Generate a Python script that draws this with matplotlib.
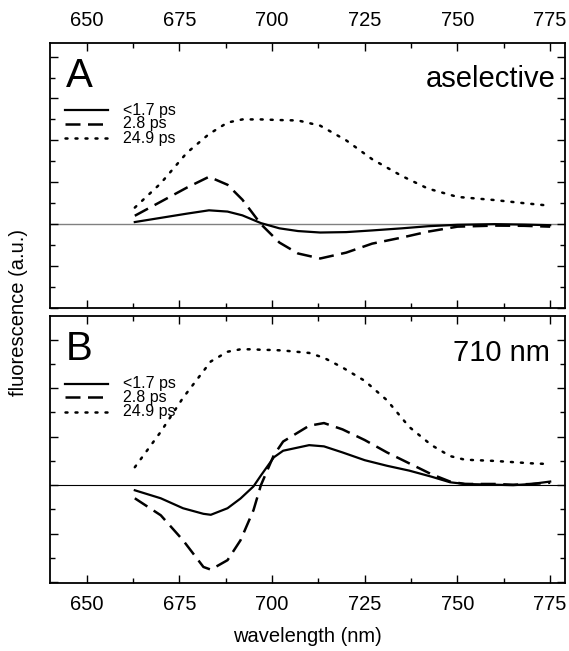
import numpy as np
import matplotlib.pyplot as plt
from matplotlib.ticker import MultipleLocator

plt.rcParams['font.family'] = ['Liberation Sans', 'DejaVu Sans']

# Data (arbitrary fluorescence units)
wl_a = [663, 670, 677, 683, 688, 692, 697, 702, 707, 713, 720, 727, 735, 742, 750, 760, 768, 775]
fast_a = [0.1, 0.3, 0.5, 0.66, 0.6, 0.42, 0.05, -0.2, -0.33, -0.4, -0.38, -0.3, -0.2, -0.1, -0.03, 0.0, -0.02, -0.05]
mid_a = [0.4, 1.07, 1.74, 2.26, 1.88, 1.17, 0.0, -0.88, -1.4, -1.64, -1.36, -0.93, -0.64, -0.36, -0.12, -0.07, -0.08, -0.12]
slow_a = [0.79, 1.95, 3.4, 4.3, 4.85, 5.0, 5.0, 4.97, 4.95, 4.7, 4.0, 3.1, 2.3, 1.7, 1.3, 1.15, 1.0, 0.88]

wl_b = [663, 670, 676, 681.5, 683.5, 688, 691.5, 695, 697, 700.5, 703, 710, 714, 719, 725, 731, 737, 743, 748, 752, 760, 765, 770, 775]
fast_b = [-0.21, -0.54, -0.95, -1.18, -1.22, -0.95, -0.55, -0.05, 0.4, 1.15, 1.42, 1.65, 1.6, 1.35, 1.03, 0.8, 0.6, 0.35, 0.12, 0.05, 0.02, 0.0, 0.05, 0.15]
mid_b = [-0.54, -1.24, -2.27, -3.37, -3.48, -3.09, -2.27, -1.03, 0.0, 1.24, 1.8, 2.45, 2.56, 2.3, 1.86, 1.35, 0.9, 0.45, 0.15, 0.05, 0.05, 0.02, 0.05, 0.1]
slow_b = [0.74, 2.2, 3.6, 4.7, 5.1, 5.5, 5.6, 5.6, 5.58, 5.57, 5.55, 5.45, 5.25, 4.85, 4.3, 3.5, 2.4, 1.65, 1.2, 1.05, 1.0, 0.95, 0.9, 0.87]

labels = ['<1.7 ps', '2.8 ps', '24.9 ps']
panels = [
    ('A', 'aselective', wl_a, [fast_a, mid_a, slow_a], (-4.0, 8.65), 'gray', 0.981),
    ('B', '710 nm', wl_b, [fast_b, mid_b, slow_b], (-4.03, 6.97), 'black', 0.971),
]

fig = plt.figure(figsize=(5.69, 6.51), dpi=100)
ax_a = fig.add_axes([0.087, 0.527, 0.906, 0.407])
ax_b = fig.add_axes([0.087, 0.1045, 0.906, 0.410])

styles = [dict(ls='-', lw=1.6),
          dict(ls=(0, (6, 3)), lw=1.8),
          dict(ls=(0, (0.8, 3.2)), lw=1.8, dash_capstyle='round')]
legend_y = [0.746, 0.695, 0.641]

for ax, (letter, tag, wl, series, ylim, zc, tag_x) in zip([ax_a, ax_b], panels):
    ax.axhline(0, color=zc, lw=1.0 if zc == 'gray' else 0.8, zorder=1)
    for y, lab, st, ly in zip(series, labels, styles, legend_y):
        ax.plot(wl, y, color='black', **st)
        # legend drawn by hand to get the tight row spacing
        ax.plot([0.031, 0.114], [ly, ly], color='black',
                transform=ax.transAxes, **st)
        ax.text(0.143, ly, lab, transform=ax.transAxes, fontsize=11.5,
                va='center', ha='left')
    ax.set_xlim(640, 779)
    ax.set_ylim(*ylim)
    ax.xaxis.set_major_locator(MultipleLocator(25))
    ax.xaxis.set_minor_locator(MultipleLocator(12.5))
    ax.yaxis.set_major_locator(MultipleLocator(2))
    ax.yaxis.set_minor_locator(MultipleLocator(1))
    ax.tick_params(which='both', direction='in', top=True, right=True,
                   labelleft=False, labelsize=14.5, width=1, pad=9)
    ax.tick_params(which='major', length=6)
    ax.tick_params(which='minor', length=3.5)
    for sp in ax.spines.values():
        sp.set_linewidth(1.3)
    ax.text(0.031, 0.834, letter, transform=ax.transAxes, fontsize=29,
            va='baseline', ha='left')
    ax.text(tag_x, 0.832, tag, transform=ax.transAxes, fontsize=21,
            va='baseline', ha='right')

ax_a.tick_params(labelbottom=False, labeltop=True)
ax_b.tick_params(labelbottom=True, labeltop=False)
ax_b.set_xlabel('wavelength (nm)', fontsize=14.5, labelpad=9)
fig.text(0.032, 0.52, 'fluorescence (a.u.)', rotation=90, fontsize=14.5,
         va='center', ha='center')

fig.savefig('out.png', dpi=100)
